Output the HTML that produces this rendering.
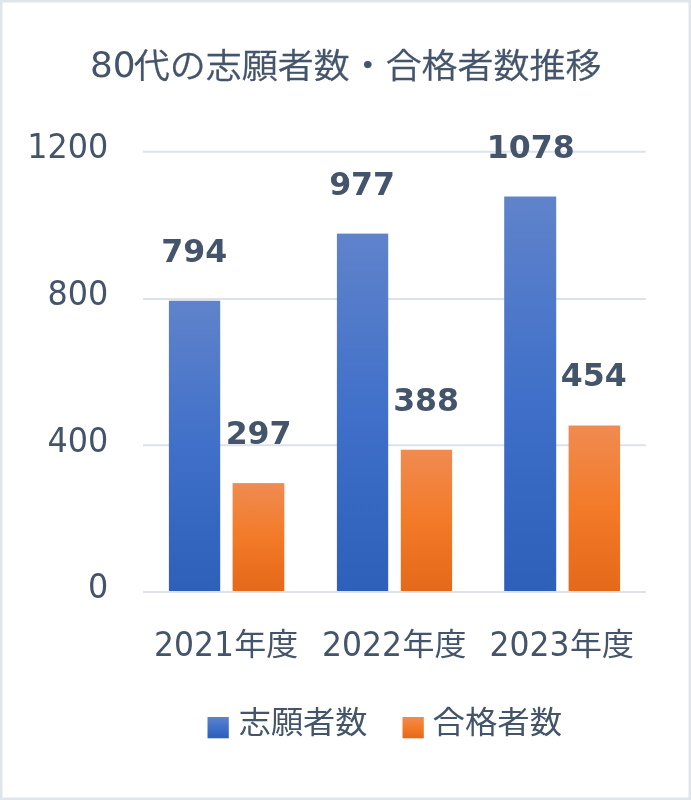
<!DOCTYPE html>
<html lang="ja">
<head>
<meta charset="utf-8">
<title>80代の志願者数・合格者数推移</title>
<style>
html,body{margin:0;padding:0;background:#fff;}
body{width:691px;height:800px;overflow:hidden;}
svg{display:block;}
text{font-family:"DejaVu Sans","Liberation Sans","Noto Sans CJK JP",sans-serif;fill:#44546a;}
.jp{font-family:"Liberation Sans","Noto Sans CJK JP",sans-serif;}
.b{font-weight:bold;}
</style>
</head>
<body>
<svg width="691" height="800" viewBox="0 0 691 800">
<defs>
<linearGradient id="gb" x1="0" y1="0" x2="0" y2="1">
<stop offset="0" stop-color="#6083cb"/><stop offset="0.5" stop-color="#4070c9"/><stop offset="1" stop-color="#2e60b9"/>
</linearGradient>
<linearGradient id="go" x1="0" y1="0" x2="0" y2="1">
<stop offset="0" stop-color="#f08b51"/><stop offset="0.5" stop-color="#f37a28"/><stop offset="1" stop-color="#e4691a"/>
</linearGradient>
</defs>
<rect x="0" y="0" width="691" height="800" fill="#ffffff"/>
<rect x="1.25" y="1.25" width="688.5" height="797.5" fill="none" stroke="#e0e5ec" stroke-width="2.5"/>
<g stroke="#dce2e8" stroke-width="2">
<line x1="143" y1="151.75" x2="645.8" y2="151.75"/>
<line x1="143" y1="299.05" x2="645.8" y2="299.05"/>
<line x1="143" y1="445.3" x2="645.8" y2="445.3"/>
</g>
<g>
<rect x="168.9" y="300.7" width="51.3" height="290.3" fill="url(#gb)"/>
<rect x="232.6" y="483.1" width="51.7" height="107.9" fill="url(#go)"/>
<rect x="336.9" y="233.6" width="51.3" height="357.4" fill="url(#gb)"/>
<rect x="400.8" y="449.7" width="51.3" height="141.3" fill="url(#go)"/>
<rect x="504.2" y="196.5" width="52.0" height="394.5" fill="url(#gb)"/>
<rect x="568.6" y="425.5" width="51.5" height="165.5" fill="url(#go)"/>
</g>
<line x1="143" y1="592.1" x2="645.8" y2="592.1" stroke="#dce2e8" stroke-width="2"/>
<text x="89.9" y="77.3" font-size="35.8" textLength="45.7" lengthAdjust="spacingAndGlyphs">80</text>
<text class="jp" transform="translate(133.8,77.8) scale(1,0.935)" font-size="36" font-weight="350" stroke="#44546a" stroke-width="0.3">代の志願者数・合格者数推移</text>
<g font-size="33" text-anchor="end">
<text transform="translate(108.3,158.1) scale(0.965,1)">1200</text>
<text transform="translate(108.3,305.4) scale(0.965,1)">800</text>
<text transform="translate(108.3,451.6) scale(0.965,1)">400</text>
<text transform="translate(108.3,598.4) scale(0.965,1)">0</text>
</g>
<g class="b" font-size="32.7" text-anchor="middle">
<text transform="translate(194.2,261.9) scale(0.966,1)">794</text>
<text transform="translate(258.6,443.5) scale(0.966,1)">297</text>
<text transform="translate(362.1,194.9) scale(0.966,1)">977</text>
<text transform="translate(426.1,410.9) scale(0.966,1)">388</text>
<text transform="translate(530.7,157.7) scale(0.966,1)">1078</text>
<text transform="translate(593.7,386.0) scale(0.966,1)">454</text>
</g>
<text x="154.0" y="656.0" font-size="34" textLength="79.9" lengthAdjust="spacingAndGlyphs">2021</text>
<text class="jp" transform="translate(234.3,654.7) scale(1,0.95)" font-size="32">年度</text>
<text x="322.1" y="656.0" font-size="34" textLength="79.9" lengthAdjust="spacingAndGlyphs">2022</text>
<text class="jp" transform="translate(402.4,654.7) scale(1,0.95)" font-size="32">年度</text>
<text x="489.6" y="656.0" font-size="34" textLength="79.9" lengthAdjust="spacingAndGlyphs">2023</text>
<text class="jp" transform="translate(569.9,654.7) scale(1,0.95)" font-size="32">年度</text>
<rect x="207.5" y="717" width="21.3" height="21.3" fill="url(#gb)"/>
<text class="jp" transform="translate(238.7,732.5) scale(1.006,0.95)" font-size="32">志願者数</text>
<rect x="402.5" y="717" width="21.3" height="21.3" fill="url(#go)"/>
<text class="jp" transform="translate(432.6,732.5) scale(1.012,0.95)" font-size="32">合格者数</text>
</svg>
</body>
</html>
